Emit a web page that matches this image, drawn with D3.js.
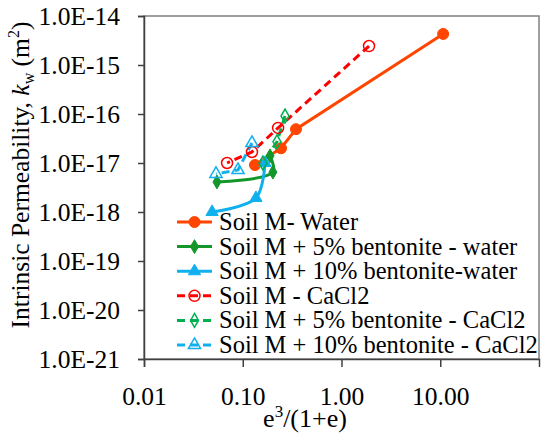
<!DOCTYPE html>
<html>
<head>
<meta charset="utf-8">
<script src="https://cdn.jsdelivr.net/npm/d3@7"></script>
<style>
  body { margin: 0; background: #fff; }
</style>
</head>
<body>
<div id="chart"></div>
<script>
// values: x = e^3/(1+e), y = k_w (m2)
var soilWaterX = [10.7, 0.346, 0.244, 0.133];
var soilWaterY = [4.3e-15, 4.9e-17, 2.0e-17, 9.1e-18];
var bent5WaterX = [0.0548, 0.202, 0.189];
var bent5WaterY = [4.1e-18, 6.5e-18, 1.4e-17];
var bent10WaterX = [0.0489, 0.136, 0.168];
var bent10WaterY = [1.0e-18, 1.93e-18, 1.0e-17];
var soilCaX = [1.90, 0.228, 0.124, 0.0694];
var soilCaY = [2.44e-15, 5.2e-17, 1.68e-17, 1.0e-17];
var bent5CaX = [0.268, 0.222, 0.160];
var bent5CaY = [9.1e-17, 2.7e-17, 1.0e-17];
var bent10CaX = [0.124, 0.0895, 0.0536];
var bent10CaY = [2.56e-17, 7.2e-18, 6.0e-18];

var seriesNames = ["Soil M- Water", "Soil M + 5% bentonite - water", "Soil M + 10% bentonite-water",
  "Soil M - CaCl2", "Soil M + 5% bentonite - CaCl2", "Soil M + 10% bentonite - CaCl2"];
var xTicks = [0.01, 0.1, 1, 10];
var yTicks = [1e-14, 1e-15, 1e-16, 1e-17, 1e-18, 1e-19, 1e-20, 1e-21];

var series = [
  {name: seriesNames[0], x: soilWaterX, y: soilWaterY, color: "#FF4500", dash: null, marker: "circle", fill: true, smooth: false},
  {name: seriesNames[1], x: bent5WaterX, y: bent5WaterY, color: "#13962A", dash: null, marker: "diamond", fill: true, smooth: true},
  {name: seriesNames[2], x: bent10WaterX, y: bent10WaterY, color: "#10B0EE", dash: null, marker: "triangle", fill: true, smooth: true},
  {name: seriesNames[3], x: soilCaX, y: soilCaY, color: "#FF0000", dash: "8,5", marker: "circle", fill: false, smooth: false},
  {name: seriesNames[4], x: bent5CaX, y: bent5CaY, color: "#00B050", dash: "8,5", marker: "diamond", fill: false, smooth: false},
  {name: seriesNames[5], x: bent10CaX, y: bent10CaY, color: "#10B0EE", dash: "8,5", marker: "triangle", fill: false, smooth: false}
];
var markerSize = {circle: 95, diamond: 55, triangle: 65};

var FONT = "'Liberation Serif', 'Times New Roman', serif";
var width = 541, height = 435;
var plotL = 144, plotR = 539, plotT = 16, plotB = 359;

var svg = d3.select("#chart").append("svg")
  .attr("width", width)
  .attr("height", height)
  .style("font-family", FONT);

var x = d3.scaleLog().domain([0.01, 100]).range([plotL, plotR]);
var y = d3.scaleLog().domain([1e-21, 1e-14]).range([plotB, plotT]);

// plot area border
svg.append("rect")
  .attr("x", plotL).attr("y", plotT)
  .attr("width", plotR - plotL).attr("height", plotB - plotT)
  .attr("fill", "none")
  .attr("stroke", "#808080")
  .attr("stroke-width", 1.5);

var fmtY = function(d) { return "1.0E" + Math.round(Math.log10(d)); };

var yAxis = svg.append("g")
  .attr("transform", "translate(" + plotL + ",0)")
  .call(d3.axisLeft(y).tickValues(yTicks).tickFormat(fmtY).tickSize(6).tickPadding(18));
var xAxis = svg.append("g")
  .attr("transform", "translate(0," + plotB + ")")
  .call(d3.axisBottom(x).tickValues(xTicks).tickFormat(d3.format(".2f")).tickSize(8).tickPadding(20));

[xAxis, yAxis].forEach(function(a) {
  a.attr("font-family", FONT);
  a.select(".domain").attr("stroke", "#404040").attr("stroke-width", 1.5);
  a.selectAll(".tick line").attr("stroke", "#404040").attr("stroke-width", 1.5);
  a.selectAll(".tick text").style("font-size", "25.5px").style("font-family", FONT).attr("fill", "#000");
});

// axis titles
svg.append("text")
  .attr("x", 305).attr("y", 427)
  .attr("text-anchor", "middle")
  .style("font-family", FONT)
  .style("font-size", "26px")
  .html('e<tspan dy="-10" style="font-size:17px">3</tspan><tspan dy="10">/(1+e)</tspan>');

svg.append("text")
  .attr("transform", "translate(29,175) rotate(-90)")
  .attr("text-anchor", "middle")
  .style("font-family", FONT)
  .style("font-size", "25.5px")
  .html('Intrinsic Permeability, <tspan font-style="italic">k</tspan><tspan dy="5" style="font-size:16px">w</tspan><tspan dy="-5"> (m</tspan><tspan dy="-10" style="font-size:16px">2</tspan><tspan dy="10">)</tspan>');

function markerPath(type) {
  var t = type === "circle" ? d3.symbolCircle : type === "diamond" ? d3.symbolDiamond : d3.symbolTriangle;
  return d3.symbol().type(t).size(markerSize[type])();
}

var plot = svg.append("g");

series.forEach(function(s) {
  var pts = s.x.map(function(v, i) { return [v, s.y[i]]; });
  var line = d3.line()
    .curve(s.smooth ? d3.curveCatmullRom.alpha(0.5) : d3.curveLinear)
    .x(function(d) { return x(d[0]); })
    .y(function(d) { return y(d[1]); });
  plot.append("path")
    .datum(pts)
    .attr("fill", "none")
    .attr("stroke", s.color)
    .attr("stroke-width", 3)
    .attr("stroke-dasharray", s.dash)
    .attr("d", line);
});

series.forEach(function(s) {
  var pts = s.x.map(function(v, i) { return [v, s.y[i]]; });
  plot.selectAll(null)
    .data(pts)
    .enter().append("path")
    .attr("transform", function(d) { return "translate(" + x(d[0]) + "," + y(d[1]) + ")"; })
    .attr("d", markerPath(s.marker))
    .attr("fill", s.fill ? s.color : "none")
    .attr("stroke", s.color)
    .attr("stroke-width", s.fill ? 1 : 1.5);
});

// legend
var legend = svg.append("g");
series.forEach(function(s, i) {
  var cy = 222 + i * 24.6;
  legend.append("line")
    .attr("x1", 177).attr("x2", 212)
    .attr("y1", cy).attr("y2", cy)
    .attr("stroke", s.color)
    .attr("stroke-width", 3)
    .attr("stroke-dasharray", s.dash);
  legend.append("path")
    .attr("transform", "translate(194.5," + cy + ")")
    .attr("d", markerPath(s.marker))
    .attr("fill", s.fill ? s.color : "none")
    .attr("stroke", s.color)
    .attr("stroke-width", s.fill ? 1 : 1.5);
  legend.append("text")
    .attr("x", 219).attr("y", cy)
    .attr("dy", "0.33em")
    .style("font-family", FONT)
    .style("font-size", "24.5px")
    .text(s.name);
});
</script>
</body>
</html>
